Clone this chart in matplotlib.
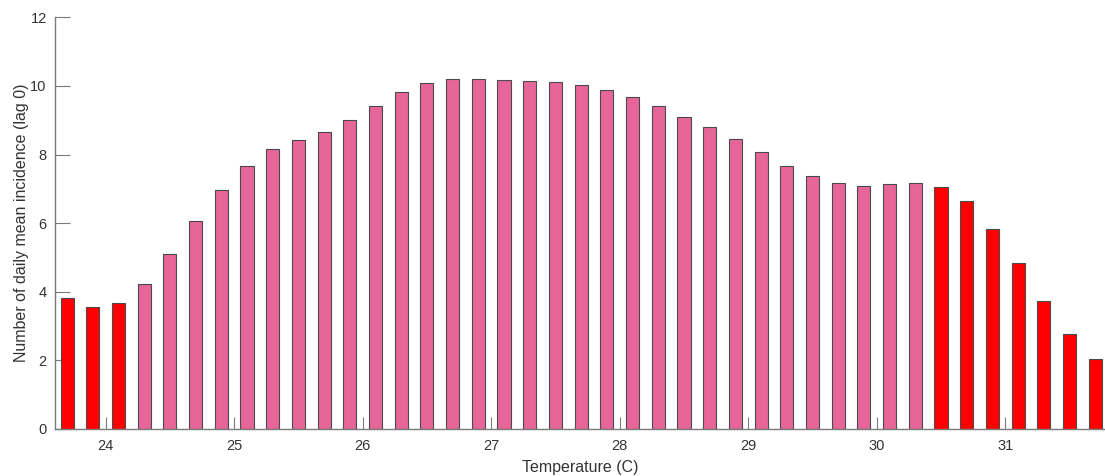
import numpy as np
import matplotlib
matplotlib.use("Agg")
import matplotlib.pyplot as plt

# temperature bins (C) and mean daily incidence at lag 0
temperature = [23.7, 23.9, 24.1, 24.3, 24.5, 24.7, 24.9, 25.1, 25.3, 25.5,
               25.7, 25.9, 26.1, 26.3, 26.5, 26.7, 26.9, 27.1, 27.3, 27.5,
               27.7, 27.9, 28.1, 28.3, 28.5, 28.7, 28.9, 29.1, 29.3, 29.5,
               29.7, 29.9, 30.1, 30.3, 30.5, 30.7, 30.9, 31.1, 31.3, 31.5,
               31.7]
incidence = [3.82, 3.57, 3.68, 4.24, 5.11, 6.06, 6.96, 7.68, 8.15, 8.41,
             8.65, 9.00, 9.42, 9.81, 10.08, 10.21, 10.21, 10.18, 10.15, 10.11,
             10.02, 9.88, 9.67, 9.41, 9.10, 8.79, 8.45, 8.08, 7.67, 7.37,
             7.18, 7.08, 7.14, 7.18, 7.05, 6.64, 5.84, 4.83, 3.74, 2.76,
             2.03]
# extreme bins (below 24.2 C and above 30.4 C) are highlighted
extreme = [True, True, True] + [False] * 31 + [True] * 7

x_ticks = [24, 25, 26, 27, 28, 29, 30, 31]
y_ticks = [0, 2, 4, 6, 8, 10, 12]

PINK = "#E6669A"
RED = "#FF0000"
AXIS = "#7a7a7a"
TEXT = "#333333"

plt.rcParams["font.family"] = ["Liberation Sans", "DejaVu Sans"]

fig = plt.figure(figsize=(11.05, 4.76), dpi=100)
ax = fig.add_axes([55 / 1105, 1 - 429 / 476, 1 - 55 / 1105, (429 - 17.3) / 476])

colors = [RED if e else PINK for e in extreme]
ax.bar(temperature, incidence, width=0.102, color=colors,
       edgecolor="#4a4a4a", linewidth=0.8, zorder=2)

ax.set_xlim(23.606, 31.776)
ax.set_ylim(0, 12)
ax.set_xticks(x_ticks)
ax.set_yticks(y_ticks)

for side in ["top", "right"]:
    ax.spines[side].set_visible(False)
for side in ["left", "bottom"]:
    ax.spines[side].set_color(AXIS)
    ax.spines[side].set_linewidth(1.0)
ax.spines["bottom"].set_zorder(3)

ax.tick_params(axis="x", direction="in", length=9, width=0.8, color=AXIS,
               labelsize=10.5, labelcolor=TEXT, pad=7)
ax.tick_params(axis="y", direction="in", length=11, width=0.8, color=AXIS,
               labelsize=10.5, labelcolor=TEXT, pad=6)

ax.set_xlabel("Temperature (C)", fontsize=11.5, color=TEXT, labelpad=5)
ax.set_ylabel("Number of daily mean incidence (lag 0)", fontsize=11.5,
              color=TEXT, labelpad=1)

fig.savefig("out.png", dpi=100)
